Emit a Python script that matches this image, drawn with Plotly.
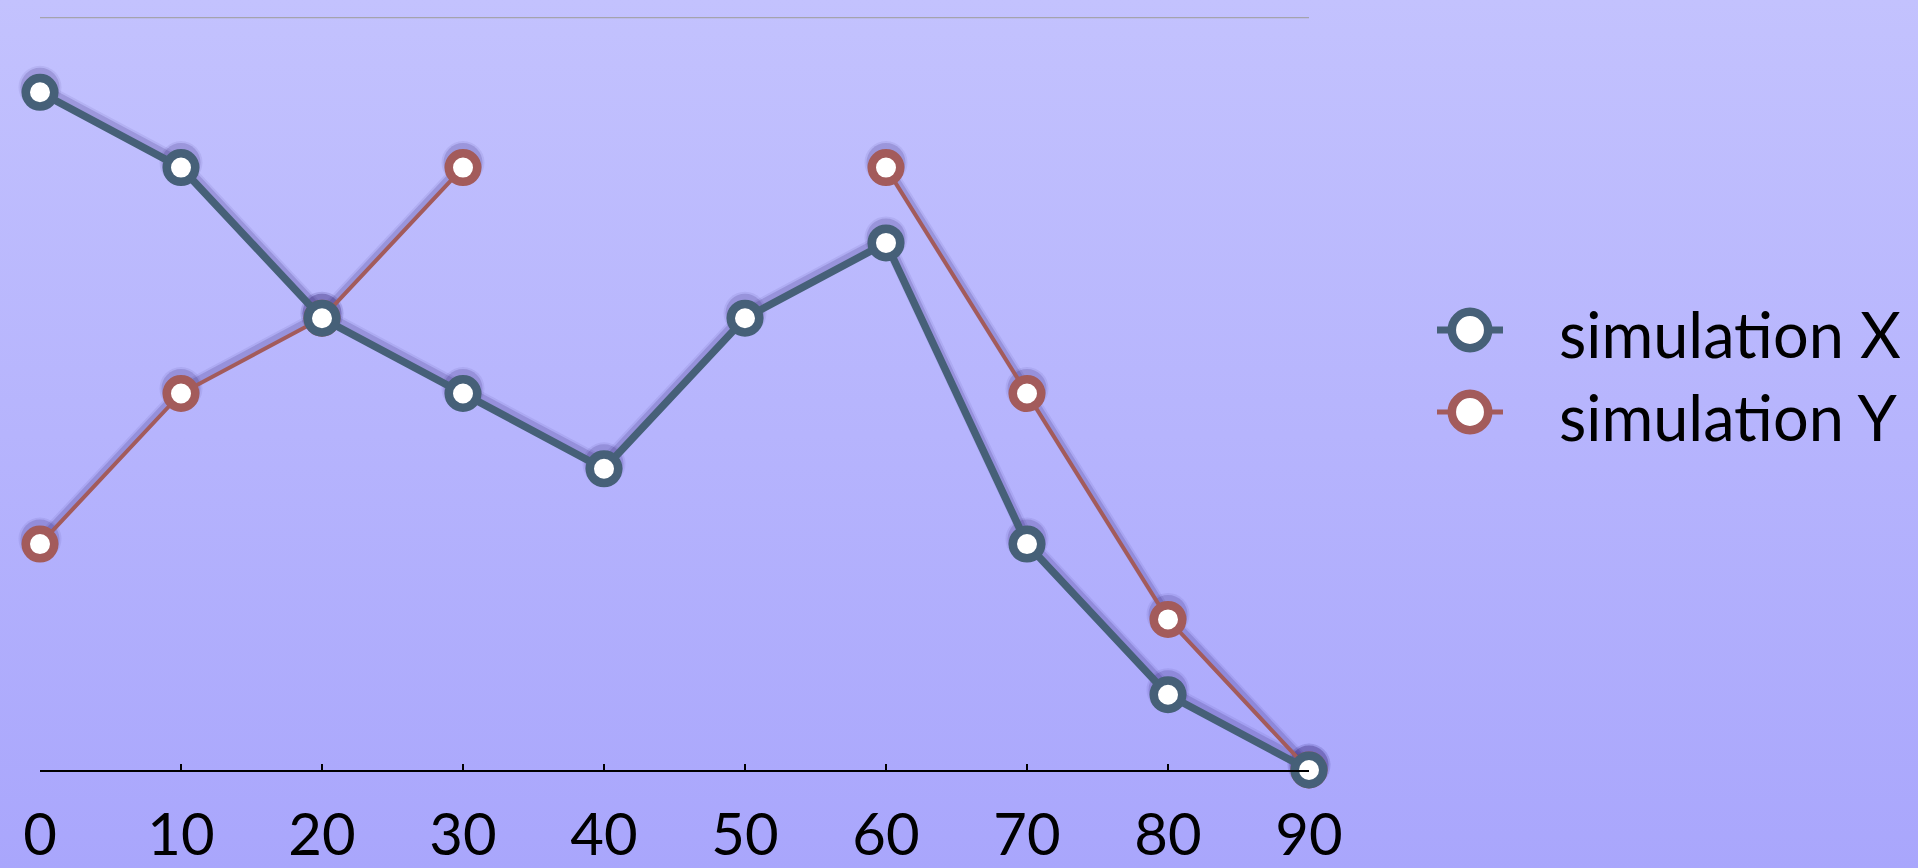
import base64
import plotly.graph_objects as go

# ---- data -------------------------------------------------------------
steps = [0, 10, 20, 30, 40, 50, 60, 70, 80, 90]
sim_x = [9, 8, 6, 5, 4, 6, 7, 3, 1, 0]
sim_y = [3, 5, 6, 8, None, None, 8, 5, 2, 0]
series_names = ["simulation X", "simulation Y"]
tick_labels = ["0", "10", "20", "30", "40", "50", "60", "70", "80", "90"]

# ---- style ------------------------------------------------------------
W, H = 1918, 868
M_L, M_R, M_T, M_B = 40, 609, 17, 98
PLOT_W = W - M_L - M_R
PLOT_H = H - M_T - M_B
Y_MAX = 10

BLUE = "#466078"
RED = "#a35b5b"
FONT = "Lato, 'Open Sans', sans-serif"
SHADOW_PX = 5  # drop-shadow offset in pixels

# vertical background gradient as an inline SVG
svg = f"""<svg xmlns='http://www.w3.org/2000/svg' width='{W}' height='{H}' preserveAspectRatio='none'>
<defs><linearGradient id='g' x1='0' y1='0' x2='0' y2='1'>
<stop offset='0' stop-color='#c3c2fe'/><stop offset='1' stop-color='#a9a6fc'/>
</linearGradient></defs><rect width='{W}' height='{H}' fill='url(#g)'/></svg>"""
bg_uri = "data:image/svg+xml;base64," + base64.b64encode(svg.encode()).decode()

fig = go.Figure()

# soft shadows live on the base y axis, whose range is nudged so they sit a few px lower
shift = SHADOW_PX * Y_MAX / PLOT_H
for values, lw in ((sim_y, 4), (sim_x, 7)):
    for extra, col in ((6, "rgba(35,20,100,0.07)"), (2, "rgba(35,20,100,0.16)")):
        fig.add_trace(go.Scatter(
            x=steps, y=values, mode="lines+markers", yaxis="y",
            line=dict(color=col, width=lw + extra),
            marker=dict(size=37 + extra, color=col, line=dict(width=0)),
            connectgaps=False, cliponaxis=False, showlegend=False, hoverinfo="skip",
        ))

# the two series, drawn on the overlaying axis
for name, values, color, lw in ((series_names[1], sim_y, RED, 4),
                                (series_names[0], sim_x, BLUE, 7.5)):
    fig.add_trace(go.Scatter(
        x=steps, y=values, name=name, mode="lines+markers", yaxis="y2",
        line=dict(color=color, width=lw),
        marker=dict(size=28.5, color="white", line=dict(color=color, width=8.5)),
        connectgaps=False, cliponaxis=False, showlegend=False,
    ))

# legend: glyphs built from shapes, labels as annotations
def px_x(px):
    return (px - M_L) / PLOT_W

def px_y(py):
    return (H - M_B - py) / PLOT_H

shapes = [
    # thin grey rule along the top of the value range
    dict(type="line", xref="paper", yref="y2", x0=0, x1=1, y0=Y_MAX, y1=Y_MAX,
         line=dict(color="#a4a3ad", width=2.5), layer="below"),
]
annotations = []
legend_items = [(series_names[0], BLUE, 7, 330), (series_names[1], RED, 5, 412)]
for name, color, lw, cy in legend_items:
    shapes.append(dict(type="line", xref="paper", yref="paper",
                       xsizemode="pixel", ysizemode="pixel",
                       xanchor=px_x(1470), yanchor=px_y(cy),
                       x0=-33, x1=33, y0=0, y1=0,
                       line=dict(color=color, width=lw)))
    shapes.append(dict(type="circle", xref="paper", yref="paper",
                       xsizemode="pixel", ysizemode="pixel",
                       xanchor=px_x(1470), yanchor=px_y(cy),
                       x0=-18.2, x1=18.2, y0=-18.2, y1=18.2,
                       fillcolor="white", line=dict(color=color, width=8.5)))
    annotations.append(dict(text=name, xref="paper", yref="paper",
                            x=px_x(1557), y=px_y(cy + 4), xanchor="left", yanchor="middle",
                            showarrow=False, font=dict(family=FONT, size=63, color="black")))

fig.update_layout(
    width=W, height=H,
    margin=dict(l=M_L, r=M_R, t=M_T, b=M_B, autoexpand=False),
    paper_bgcolor="#b6b3fd",
    plot_bgcolor="rgba(0,0,0,0)",
    showlegend=False,
    images=[dict(source=bg_uri, xref="paper", yref="paper",
                 x=-M_L / PLOT_W, y=1 + M_T / PLOT_H,
                 sizex=W / PLOT_W, sizey=H / PLOT_H,
                 sizing="stretch", xanchor="left", yanchor="top", layer="below")],
    xaxis=dict(range=[0, 90], tickvals=steps, ticktext=tick_labels,
               showgrid=False, zeroline=False, automargin=False,
               showline=True, linecolor="black", linewidth=2,
               ticks="inside", ticklen=6, tickwidth=2, tickcolor="black",
               ticklabelstandoff=13,
               tickfont=dict(family=FONT, size=58, color="black"),
               fixedrange=True),
    yaxis=dict(range=[-shift, Y_MAX - shift], visible=False, fixedrange=True,
               automargin=False),
    yaxis2=dict(range=[0, Y_MAX], overlaying="y", side="left", automargin=False,
                showticklabels=False, ticks="", showgrid=False,
                zeroline=False, showline=False, fixedrange=True),
    shapes=shapes,
    annotations=annotations,
)

fig.write_html("out.html")
